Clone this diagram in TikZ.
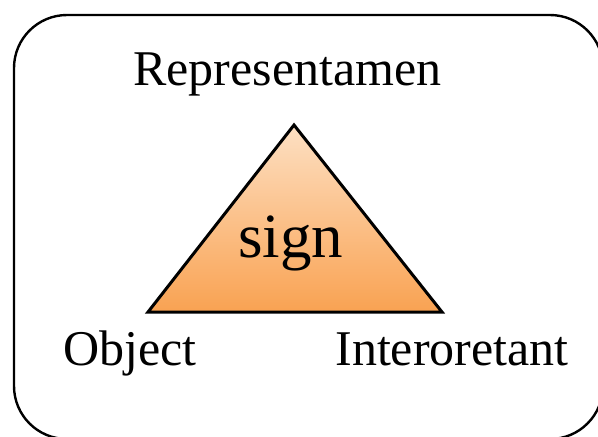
\documentclass[tikz,border=0pt]{standalone}
\usepackage{fontspec}
\setmainfont{Liberation Serif}
\definecolor{peach}{HTML}{FDE0C3}
\definecolor{tangerine}{HTML}{F9A252}
\tikzset{
    label text/.style={inner sep=0pt, anchor=base west, font=\fontsize{25}{30}\selectfont},
    sign text/.style={inner sep=0pt, anchor=base west, font=\fontsize{31.5}{36}\selectfont}
}
\begin{document}
\begin{tikzpicture}[x=0.5pt, y=-0.5pt]
    \useasboundingbox (0,0) rectangle (598,436);
    \draw[line width=1.2pt, rounded corners=26.5pt] (14,15) rectangle (603,439);

    \coordinate (r) at (294,125); \coordinate (o) at (148,312);
    \coordinate (i) at (442,312);

    \draw[line width=1.5pt, line join=miter, top color=peach, bottom color=tangerine] (r)--(i)--(o)--cycle;

    \node[sign text] (sign) at (238,257) {sign};
    \node[label text] (repr) at (133,85) {Representamen};
    \node[label text] (obj) at (63,365) {Object};
    \node[label text] (interp) at (335,365) {Interoretant};
\end{tikzpicture}
\end{document}
